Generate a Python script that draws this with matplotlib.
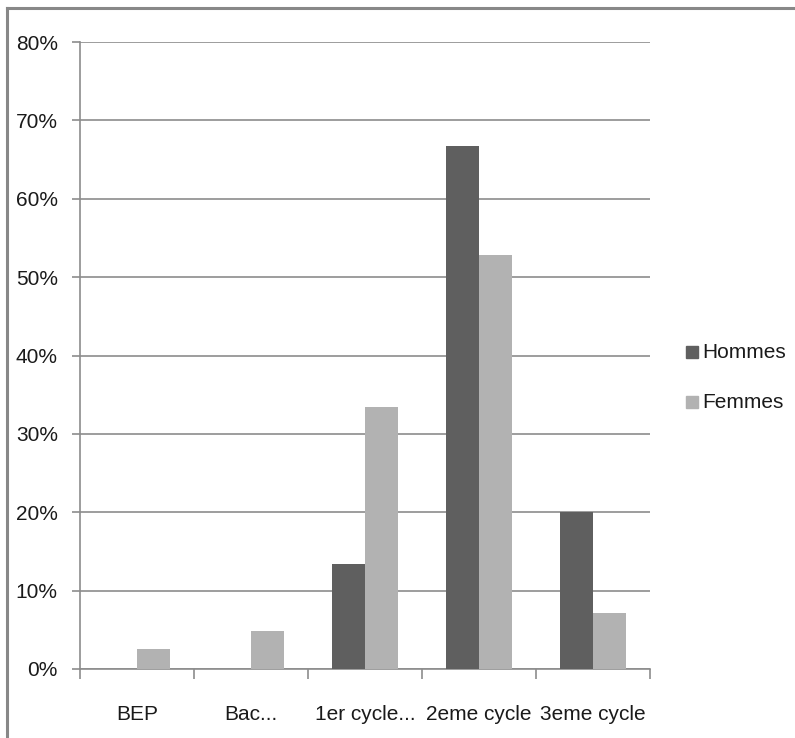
import matplotlib
matplotlib.use("Agg")
import matplotlib.pyplot as plt
from matplotlib.lines import Line2D
from matplotlib.patches import Rectangle
import numpy as np
from matplotlib import font_manager

categories = ["BEP", "Bac...", "1er cycle...", "2eme cycle", "3eme cycle"]
hommes = [0.0, 0.0, 13.4, 66.7, 20.0]
femmes = [2.5, 4.8, 33.4, 52.8, 7.2]
series_names = ["Hommes", "Femmes"]
yticks = [0, 10, 20, 30, 40, 50, 60, 70, 80]

avail = {f.name for f in font_manager.fontManager.ttflist}
fam = "Liberation Sans Narrow" if "Liberation Sans Narrow" in avail else "Liberation Sans"
plt.rcParams["font.family"] = [fam, "DejaVu Sans"]

W, H = 795, 738
fig = plt.figure(figsize=(W / 100, H / 100), dpi=100)
x0, x1, ytop, ybot = 80, 650, 42, 669
ax = fig.add_axes([x0 / W, (H - ybot) / H, (x1 - x0) / W, (ybot - ytop) / H])

dark = "#5f5f5f"
light = "#b2b2b2"
grid = "#8c8c8c"

n = len(categories)
x = np.arange(n)
bw = 1 / 3.5
ax.bar(x - bw / 2, hommes, width=bw, color=dark, label=series_names[0], zorder=3)
ax.bar(x + bw / 2, femmes, width=bw, color=light, label=series_names[1], zorder=3)

ax.set_xlim(-0.5, n - 0.5)
ax.set_ylim(0, 80)
ax.set_yticks(yticks)
ax.set_yticklabels([f"{v}%" for v in yticks])
ax.yaxis.grid(True, color=grid, linewidth=1.2, zorder=0)
ax.set_axisbelow(True)

ax.set_xticks(x)
ax.set_xticklabels(categories)
ax.set_xticks(np.arange(n + 1) - 0.5, minor=True)
ax.tick_params(axis="x", which="major", length=0, pad=26, labelsize=15, colors="#1a1a1a")
ax.tick_params(axis="x", which="minor", length=7, width=1.2, color=grid)
ax.tick_params(axis="y", length=6, width=1.2, color=grid, pad=10, labelsize=15, labelcolor="#1a1a1a")

for s in ["top", "right"]:
    ax.spines[s].set_visible(False)
for s in ["left", "bottom"]:
    ax.spines[s].set_color(grid)
    ax.spines[s].set_linewidth(1.2)

# legend
for i, (name, col) in enumerate(zip(series_names, [dark, light])):
    yc = 352 + i * 50
    fig.patches.append(Rectangle((686 / W, (H - yc - 6) / H), 12 / W, 12 / H,
                                 transform=fig.transFigure, color=col))
    fig.text(702 / W, (H - yc) / H, name, fontsize=15, va="center", ha="left", color="#1a1a1a")

# outer border (top and left)
fig.add_artist(Line2D([7 / W, 1], [(H - 8) / H, (H - 8) / H], transform=fig.transFigure,
                      color="#888888", linewidth=2.2))
fig.add_artist(Line2D([7 / W, 7 / W], [0, (H - 8) / H], transform=fig.transFigure,
                      color="#888888", linewidth=2.2))

fig.savefig("out.png", dpi=100)
